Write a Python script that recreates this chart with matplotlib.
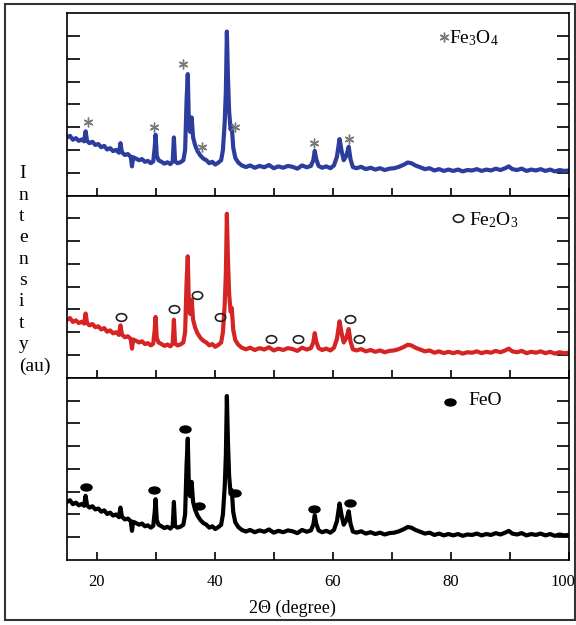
import matplotlib
matplotlib.use('Agg')
import matplotlib.pyplot as plt
from matplotlib.markers import MarkerStyle
from matplotlib.transforms import Affine2D, ScaledTranslation
from matplotlib.patches import Rectangle

plt.rcParams['font.family'] = 'Liberation Serif'
plt.rcParams['mathtext.fontset'] = 'custom'
plt.rcParams['mathtext.rm'] = 'Liberation Serif'
plt.rcParams['mathtext.default'] = 'regular'

# XRD pattern (same pattern in all three panels)
two_theta = [15.0, 15.5, 16.0, 16.5, 17.0, 17.5, 17.9, 18.15, 18.4, 18.8, 19.3, 19.8,
             20.3, 20.8, 21.3, 21.8, 22.3, 22.8, 23.3, 23.8, 24.05, 24.3, 24.8, 25.3,
             25.8, 26.0, 26.2, 26.7, 27.2, 27.7, 28.2, 28.7, 29.2, 29.6, 29.85, 30.0, 30.2, 30.5,
             31.0, 31.5, 32.0, 32.5, 32.9, 33.1, 33.3, 33.7, 34.2, 34.7, 35.0, 35.25,
             35.45, 35.65, 35.85, 36.1, 36.35, 36.7, 37.1, 37.6, 38.1, 38.6, 39.1, 39.6, 40.1, 40.6, 41.1,
             41.4, 41.7, 41.9, 42.07, 42.25, 42.45, 42.7, 42.9, 43.15, 43.5, 44.0, 44.6,
             45.3, 46.0, 46.8, 47.6, 48.4, 49.2, 50.0, 50.8, 51.6, 52.4, 53.2, 54.0, 54.8, 55.6,
             56.3, 56.7, 56.95, 57.2, 57.6, 58.2, 58.9, 59.6, 60.2, 60.7, 61.15, 61.5, 61.85, 62.3, 62.7, 63.0, 63.4,
             64.0, 64.8, 65.6, 66.4, 67.2, 68.0, 68.8, 69.6, 70.4, 71.2, 72.0, 72.7, 73.3, 74.0, 74.8,
             75.6, 76.4, 77.2, 78.0, 78.8, 79.6,
             80.4, 81.2, 82.0, 82.8, 83.6, 84.4, 85.2, 86.0, 86.8, 87.6, 88.4, 89.2, 89.8,
             90.4, 91.2, 92.0, 92.8, 93.6, 94.4, 95.2, 96.0, 96.8, 97.6, 98.4, 99.2, 100.0]
intensity = [2.55, 2.62, 2.45, 2.52, 2.40, 2.46, 2.38, 2.82, 2.40, 2.30, 2.36, 2.22,
             2.26, 2.12, 2.18, 2.02, 2.08, 1.95, 2.00, 1.88, 2.30, 1.90, 1.78, 1.82,
             1.70, 1.28, 1.68, 1.62, 1.55, 1.60, 1.48, 1.52, 1.42, 1.50, 2.10, 2.67, 1.75, 1.55,
             1.48, 1.40, 1.46, 1.38, 1.50, 2.55, 1.50, 1.42, 1.46, 1.55, 2.00, 4.20,
             5.33, 3.00, 2.80, 3.43, 2.55, 2.20, 1.95, 1.75, 1.62, 1.55, 1.42, 1.48, 1.36, 1.44, 1.55,
             2.00, 3.20, 4.60, 7.20, 5.20, 3.70, 2.90, 3.06, 2.10, 1.65, 1.45, 1.32,
             1.25, 1.32, 1.22, 1.30, 1.24, 1.34, 1.20, 1.28, 1.22, 1.30, 1.26, 1.18, 1.32, 1.24,
             1.30, 1.55, 1.96, 1.60, 1.30, 1.22, 1.28, 1.20, 1.32, 1.70, 2.48, 1.95, 1.55, 1.75, 2.14, 1.60, 1.25,
             1.20, 1.26, 1.16, 1.22, 1.14, 1.20, 1.12, 1.18, 1.20, 1.26, 1.35, 1.45, 1.42, 1.32, 1.24,
             1.16, 1.20, 1.10, 1.16, 1.08, 1.14,
             1.08, 1.14, 1.06, 1.12, 1.10, 1.16, 1.08, 1.14, 1.10, 1.18, 1.12, 1.20, 1.28,
             1.16, 1.12, 1.18, 1.08, 1.14, 1.10, 1.16, 1.08, 1.14, 1.06, 1.12, 1.08, 1.10]

# phase markers
fe3o4_x = [18.6, 29.7, 34.6, 37.8, 43.5, 56.9, 62.7]
fe3o4_y = [3.25, 3.03, 5.77, 2.15, 2.99, 2.29, 2.50]
fe2o3_x = [24.1, 33.1, 37.0, 40.9, 49.5, 54.1, 62.85, 64.4]
fe2o3_y = [2.68, 3.00, 3.62, 2.68, 1.70, 1.70, 2.56, 1.70]
feo_x = [18.2, 29.7, 35.0, 37.4, 43.5, 56.9, 62.85]
feo_y = [3.20, 3.08, 5.75, 2.35, 2.96, 2.26, 2.49]

labels = ['Fe$_3$O$_4$', 'Fe$_2$O$_3$', 'FeO']
colors = ['#2c3d9e', '#d62424', '#000000']

star = MarkerStyle((6, 2, 0))
ring = MarkerStyle('o', fillstyle='none', transform=Affine2D().scale(1.35, 1.0))
dot = MarkerStyle('o', transform=Affine2D().scale(1.6, 1.0))

fig = plt.figure(figsize=(5.76, 6.25), dpi=100)
gs = fig.add_gridspec(3, 1, left=67/576, right=569/576, top=1-13.3/625,
                      bottom=1-560/625, hspace=0)
axes = [fig.add_subplot(gs[i]) for i in range(3)]

marks = [(fe3o4_x, fe3o4_y, star, dict(color='#777777', ms=7, mew=1.0)),
         (fe2o3_x, fe2o3_y, ring, dict(color='#222222', ms=5.5, mew=1.2)),
         (feo_x, feo_y, dot, dict(color='black', ms=5))]
legend_pos = [(78.8, 6.97, 79.7, 6.93), (81.2, 7.0, 83.1, 6.92), (79.8, 6.95, 82.9, 7.0)]

for i, ax in enumerate(axes):
    ax.plot(two_theta, intensity, color=colors[i], lw=3.0)
    mx, my, ms, kw = marks[i]
    ax.plot(mx, my, ls='none', marker=ms, **kw)
    lx, ly, tx, ty = legend_pos[i]
    ax.plot([lx], [ly], ls='none', marker=ms, **kw)
    ax.text(tx, ty, labels[i], fontsize=14, va='center', ha='left')

    ax.set_xlim(15, 100)
    ax.set_ylim(0, 8)
    ax.set_yticks([1, 2, 3, 4, 5, 6, 7])
    ax.set_xticks([20, 40, 60, 80, 100])
    ax.set_xticks([30, 50, 70, 90], minor=True)
    ax.tick_params(axis='y', direction='in', left=True, right=True,
                   labelleft=False, length=9, width=1.2)
    ax.tick_params(axis='x', which='both', direction='in', top=False,
                   length=6, width=1.2, labelsize=12, pad=10)
    if i < 2:
        ax.tick_params(axis='x', labelbottom=False)
    for sp in ax.spines.values():
        sp.set_linewidth(1.2)

# last tick label sits a little left of its tick, as in the original
last = axes[2].get_xticklabels()[-1]
last.set_transform(last.get_transform() + ScaledTranslation(-0.06, 0, fig.dpi_scale_trans))

fig.text(19/576, 1-270/625, '\n'.join(['I', 'n', 't', 'e', 'n', 's', 'i', 't', 'y', '(au)']),
         ha='left', va='center', fontsize=14, linespacing=1.33)
fig.text(292/576, 1-608/625, '2\u0398 (degree)', ha='center', va='center', fontsize=13)

fig.add_artist(Rectangle((5/576, 1-620/625), 570/576, 616/625, transform=fig.transFigure,
                         fill=False, lw=1.5, ec='#333333'))

fig.savefig('out.png', dpi=100)
